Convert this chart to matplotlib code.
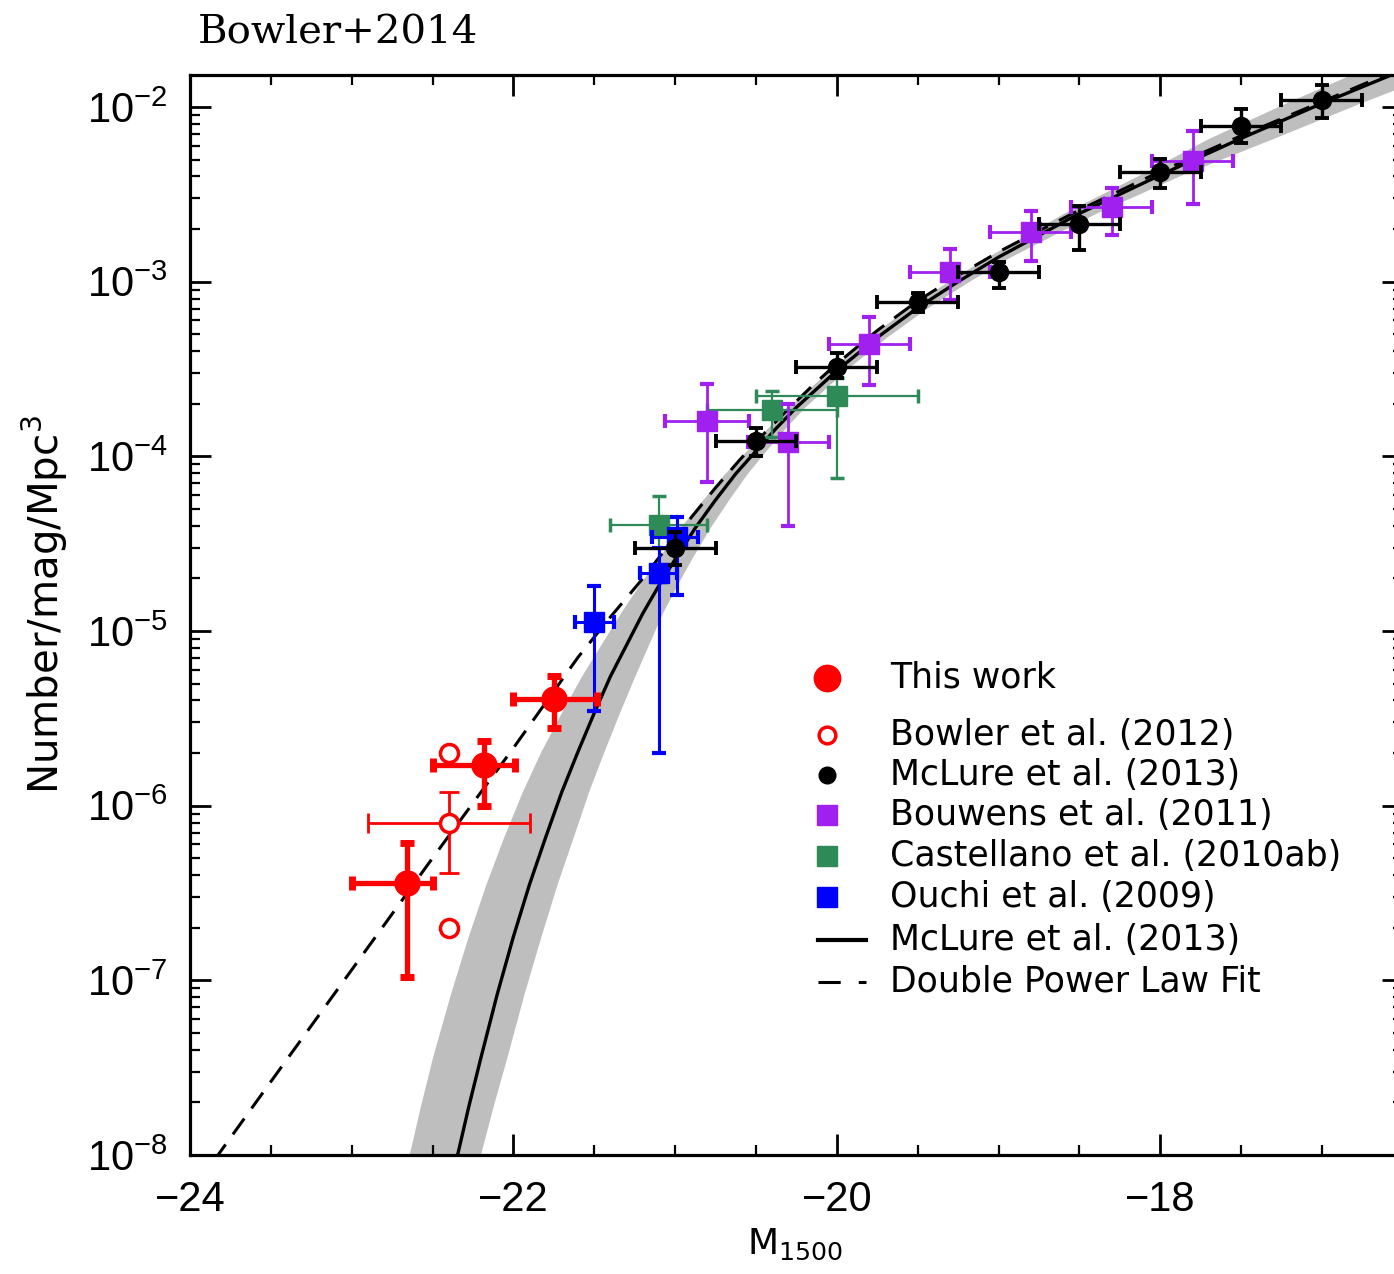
import numpy as np
import matplotlib
matplotlib.use("Agg")
import matplotlib.pyplot as plt
from matplotlib.ticker import (MultipleLocator, LogLocator, FixedLocator,
                               LogFormatterMathtext, NullFormatter)

plt.rcParams['font.family'] = ['Liberation Sans', 'DejaVu Sans']
plt.rcParams['mathtext.default'] = 'regular'
plt.rcParams['lines.scale_dashes'] = False

# This work (filled red)
this_M = [-22.66, -22.18, -21.75]
this_phi = [3.6e-7, 1.7e-6, 4.1e-6]
this_phi_lo = [1.05e-7, 1.0e-6, 2.8e-6]
this_phi_hi = [6.1e-7, 2.35e-6, 5.5e-6]
this_M_lo = [-23.0, -22.5, -22.0]
this_M_hi = [-22.5, -21.99, -21.48]

# Bowler et al. (2012), open red
b12_M = [-22.4, -22.4, -22.4]
b12_phi = [2.0e-6, 8.0e-7, 2.0e-7]
b12_err_M = [-22.4]
b12_err_phi = [8.0e-7]
b12_err_phi_lo = [4.1e-7]
b12_err_phi_hi = [1.2e-6]
b12_err_M_lo = [-22.9]
b12_err_M_hi = [-21.9]

# McLure et al. (2013) points
mc_M = [-21.0, -20.5, -20.0, -19.5, -19.0, -18.5, -18.0, -17.5, -17.0]
mc_phi = [3.0e-5, 1.23e-4, 3.25e-4, 7.6e-4, 1.13e-3, 2.14e-3, 4.25e-3, 7.8e-3, 1.10e-2]
mc_phi_lo = [2.4e-5, 1.0e-4, 2.8e-4, 6.7e-4, 9.2e-4, 1.52e-3, 3.44e-3, 6.2e-3, 8.6e-3]
mc_phi_hi = [3.7e-5, 1.45e-4, 3.9e-4, 8.6e-4, 1.3e-3, 2.7e-3, 5.05e-3, 9.7e-3, 1.34e-2]
mc_dM = [0.25, 0.25, 0.25, 0.25, 0.25, 0.25, 0.25, 0.25, 0.25]

# Bouwens et al. (2011)
bo_M = [-20.8, -20.3, -19.8, -19.3, -18.8, -18.3, -17.8]
bo_phi = [1.6e-4, 1.2e-4, 4.4e-4, 1.14e-3, 1.92e-3, 2.68e-3, 4.9e-3]
bo_phi_lo = [7.1e-5, 4.0e-5, 2.56e-4, 7.9e-4, 1.32e-3, 1.85e-3, 2.8e-3]
bo_phi_hi = [2.6e-4, 2.0e-4, 6.3e-4, 1.54e-3, 2.54e-3, 3.44e-3, 7.3e-3]
bo_dM = [0.26, 0.25, 0.25, 0.25, 0.25, 0.25, 0.25]

# Castellano et al. (2010ab)
ca_M = [-21.1, -20.4, -20.0]
ca_phi = [4.05e-5, 1.85e-4, 2.2e-4]
ca_phi_lo = [1.9e-5, 1.29e-4, 7.5e-5]
ca_phi_hi = [5.9e-5, 2.35e-4, 2.8e-4]
ca_M_lo = [-21.4, -20.8, -20.5]
ca_M_hi = [-20.8, -20.0, -19.5]

# Ouchi et al. (2009)
ou_M = [-21.5, -21.1, -20.99]
ou_phi = [1.13e-5, 2.15e-5, 3.45e-5]
ou_phi_lo = [3.5e-6, 2.0e-6, 1.6e-5]
ou_phi_hi = [1.8e-5, 3.0e-5, 4.5e-5]
ou_M_lo = [-21.62, -21.22, -21.14]
ou_M_hi = [-21.38, -20.99, -20.86]

# McLure et al. (2013) fit and its uncertainty band (offsets in mag)
fit_M = [-22.42, -22.35, -22.275, -22.2, -22.1, -22.0, -21.9, -21.8, -21.7, -21.6,
         -21.5, -21.4, -21.3, -21.2, -21.1, -21.0, -20.875, -20.75, -20.625, -20.5,
         -20.375, -20.25, -20.0, -19.75, -19.5, -19.25, -19.0, -18.5, -18.0, -17.5,
         -17.0, -16.5]
fit_logphi = [-8.33, -8.02, -7.72, -7.44, -7.08, -6.75, -6.45, -6.18, -5.92, -5.69,
              -5.47, -5.26, -5.08, -4.90, -4.74, -4.59, -4.41, -4.25, -4.10, -3.97,
              -3.84, -3.72, -3.51, -3.32, -3.15, -3.00, -2.86, -2.61, -2.39, -2.18,
              -1.98, -1.79]
band_bright = [0.30, 0.30, 0.30, 0.30, 0.29, 0.28, 0.27, 0.26, 0.245, 0.23,
               0.205, 0.18, 0.16, 0.14, 0.125, 0.11, 0.095, 0.08, 0.07, 0.06,
               0.055, 0.05, 0.05, 0.055, 0.06, 0.065, 0.07, 0.10, 0.13, 0.20,
               0.23, 0.26]
band_faint = [0.13, 0.14, 0.15, 0.16, 0.165, 0.17, 0.17, 0.17, 0.165, 0.16,
              0.155, 0.15, 0.135, 0.12, 0.11, 0.10, 0.09, 0.08, 0.07, 0.06,
              0.055, 0.05, 0.05, 0.055, 0.06, 0.065, 0.07, 0.10, 0.13, 0.20,
              0.23, 0.26]

# Double power law fit
dpl_M = [-23.85, -23.5, -23.0, -22.5, -22.0, -21.6, -21.4, -21.2, -21.05, -20.9,
         -20.75, -20.6, -20.45, -20.3, -20.15, -20.0, -19.75, -19.5, -19.25, -19.0,
         -18.5, -18.0, -17.5, -17.0, -16.5]
dpl_logphi = [-8.03, -7.58, -6.94, -6.30, -5.67, -5.15, -4.92, -4.70, -4.52, -4.35,
              -4.18, -4.02, -3.87, -3.73, -3.595, -3.47, -3.28, -3.11, -2.965, -2.83,
              -2.59, -2.37, -2.165, -1.97, -1.775]

ytick_vals = [1e-8, 1e-7, 1e-6, 1e-5, 1e-4, 1e-3, 1e-2]

RED = '#ff0000'
PURPLE = '#a020f0'
GREEN = '#2e8b57'
BLUE = '#0000ff'
GREY = '#bebebe'


def asym(v, lo, hi):
    v = np.array(v)
    return [v - np.array(lo), np.array(hi) - v]


fig = plt.figure(figsize=(13.94, 12.74), dpi=100)
ax = fig.add_axes([190 / 1394, 119 / 1274, 1212.75 / 1394, 1080 / 1274])

fm = np.array(fit_M)
fphi = 10 ** np.array(fit_logphi)
ax.fill_betweenx(fphi, fm - np.array(band_bright), fm + np.array(band_faint),
                 color=GREY, lw=0, zorder=1)
ax.plot(fm, fphi, color='black', lw=2.4, zorder=2)
ax.plot(dpl_M, 10 ** np.array(dpl_logphi), color='black', lw=2.2,
        dashes=(14, 9), zorder=2)

ax.errorbar(ca_M, ca_phi, yerr=asym(ca_phi, ca_phi_lo, ca_phi_hi),
            xerr=asym(ca_M, ca_M_lo, ca_M_hi), fmt='s', ms=14, color=GREEN,
            elinewidth=1.6, capsize=5, capthick=2.5, zorder=3)
ax.errorbar(bo_M, bo_phi, yerr=asym(bo_phi, bo_phi_lo, bo_phi_hi), xerr=bo_dM,
            fmt='s', ms=14, color=PURPLE, elinewidth=2, capsize=5, capthick=3,
            zorder=4)
ax.errorbar(ou_M, ou_phi, yerr=asym(ou_phi, ou_phi_lo, ou_phi_hi),
            xerr=asym(ou_M, ou_M_lo, ou_M_hi), fmt='s', ms=14, color=BLUE,
            elinewidth=2.2, capsize=5, capthick=3, zorder=4)
ax.errorbar(mc_M, mc_phi, yerr=asym(mc_phi, mc_phi_lo, mc_phi_hi), xerr=mc_dM,
            fmt='o', ms=13, color='black', elinewidth=2.4, capsize=5,
            capthick=2.8, zorder=5)
ax.errorbar(b12_err_M, b12_err_phi,
            yerr=asym(b12_err_phi, b12_err_phi_lo, b12_err_phi_hi),
            xerr=asym(b12_err_M, b12_err_M_lo, b12_err_M_hi), fmt='none',
            ecolor=RED, elinewidth=2, capsize=7, capthick=2, zorder=5)
ax.plot(b12_M, b12_phi, 'o', ms=13, mfc='white', mec=RED, mew=2.5, zorder=6)
ax.errorbar(this_M, this_phi, yerr=asym(this_phi, this_phi_lo, this_phi_hi),
            xerr=asym(this_M, this_M_lo, this_M_hi), fmt='o', ms=18, color=RED,
            elinewidth=3.8, capsize=5, capthick=5, zorder=6)

ax.set_xlim(-24, -16.5)
ax.set_yscale('log')
ax.set_ylim(1e-8, 10 ** -1.817)
ax.xaxis.set_major_locator(FixedLocator([-24, -22, -20, -18]))
ax.xaxis.set_minor_locator(MultipleLocator(0.5))
ax.yaxis.set_major_locator(FixedLocator(ytick_vals))
ax.yaxis.set_minor_locator(LogLocator(base=10, subs=np.arange(2, 10), numticks=20))
ax.yaxis.set_major_formatter(LogFormatterMathtext())
ax.yaxis.set_minor_formatter(NullFormatter())
ax.tick_params(which='both', direction='in', top=True, right=True, labelsize=30)
ax.tick_params(which='major', length=15, width=2)
ax.tick_params(which='minor', length=7, width=1.6)
ax.tick_params(axis='x', pad=18)
ax.tick_params(axis='y', pad=16)
for sp in ax.spines.values():
    sp.set_linewidth(2.3)

# legend, drawn by hand in axes coordinates
tr = ax.transAxes
mx, tx = 0.5253, 0.5772
rows = [0.4417, 0.3889, 0.3519, 0.3148, 0.2769, 0.2389, 0.1991, 0.1602]
labels = ['This work', 'Bowler et al. (2012)', 'McLure et al. (2013)',
          'Bouwens et al. (2011)', 'Castellano et al. (2010ab)',
          'Ouchi et al. (2009)', 'McLure et al. (2013)', 'Double Power Law Fit']
ax.plot([mx], [rows[0]], 'o', ms=19, color=RED, transform=tr)
ax.plot([mx], [rows[1]], 'o', ms=12, mfc='white', mec=RED, mew=2.5, transform=tr)
ax.plot([mx], [rows[2]], 'o', ms=12, color='black', transform=tr)
ax.plot([mx], [rows[3]], 's', ms=14, color=PURPLE, transform=tr)
ax.plot([mx], [rows[4]], 's', ms=14, color=GREEN, transform=tr)
ax.plot([mx], [rows[5]], 's', ms=14, color=BLUE, transform=tr)
ax.plot([0.518, 0.557], [rows[6], rows[6]], color='black', lw=3, transform=tr)
ax.plot([0.518, 0.557], [rows[7], rows[7]], color='black', lw=2.2, dashes=(16, 13),
        transform=tr)
for y, lab in zip(rows, labels):
    ax.text(tx, y, lab, transform=tr, fontsize=25, family='DejaVu Sans',
            va='center', ha='left')

fig.text(198 / 1394, 1 - 33 / 1274, 'Bowler+2014', fontsize=29,
         family='DejaVu Serif', ha='left', va='center')
fig.text(45 / 1394, 1 - 605 / 1274, 'Number/mag/Mpc$^{3}$', fontsize=29,
         family='DejaVu Sans', rotation=90, ha='center', va='center')
fig.text(795 / 1394, 1 - 1244 / 1274, 'M$_{1500}$', fontsize=26,
         family='DejaVu Sans', ha='center', va='center')

fig.savefig('out.png', dpi=100)
